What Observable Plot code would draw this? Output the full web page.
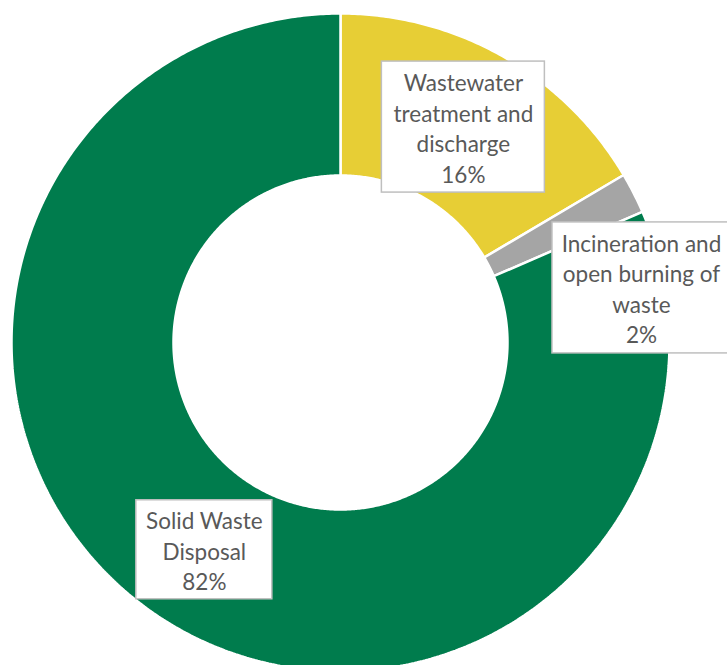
<!DOCTYPE html>
<html>
<head>
<meta charset="utf-8">
<script src="https://cdn.jsdelivr.net/npm/d3@7"></script>
<script src="https://cdn.jsdelivr.net/npm/@observablehq/plot@0.6"></script>
<style>
  html, body { margin: 0; padding: 0; background: #ffffff; }
  #chart svg { display: block; }
</style>
</head>
<body>
<div id="chart"></div>
<script>
// ---- data ----
const categories = [
  "Wastewater treatment and discharge",
  "Incineration and open burning of waste",
  "Solid Waste Disposal"
];
const values = [16.5, 2.0, 81.5];
const labelLines = [
  ["Wastewater", "treatment and", "discharge"],
  ["Incineration and", "open burning of", "waste"],
  ["Solid Waste", "Disposal"]
];
const percentLabels = ["16%", "2%", "82%"];
const colors = ["#E7CE35", "#A5A5A5", "#007C4D"];

// ---- layout (pixels) ----
const W = 727, H = 665;
const CX = 340, CY = 342, RPX = 329, RIN = 167;
const inner = RIN / RPX;
const labelRadius = (1 + inner) / 2;
const boxSize = [[163, 131], [178, 131], [136, 99]];
const labelShift = [[0, 0], [80, 58], [0, 0]]; // best-fit shift for thin slice
const fontFamily = "Lato, 'Open Sans', sans-serif";
const fontSize = 22.5;
const lineGap = 30.5;

// ---- derived geometry ----
const arcs = d3.pie().sort(null).value(d => d)(values);
function ringPolygon(a0, a1) {
  const pts = [];
  const n = Math.max(4, Math.ceil((a1 - a0) / (Math.PI / 360)));
  for (let i = 0; i <= n; i++) {
    const a = a0 + (a1 - a0) * i / n;
    pts.push({x: Math.sin(a), y: Math.cos(a)});
  }
  for (let i = n; i >= 0; i--) {
    const a = a0 + (a1 - a0) * i / n;
    pts.push({x: inner * Math.sin(a), y: inner * Math.cos(a)});
  }
  return pts;
}
const slices = arcs.map((a, i) => ({cat: categories[i], color: colors[i], pts: ringPolygon(a.startAngle, a.endAngle)}));

const labels = arcs.map((a, i) => {
  const m = (a.startAngle + a.endAngle) / 2;
  const x = labelRadius * Math.sin(m) + labelShift[i][0] / RPX;
  const y = labelRadius * Math.cos(m) - labelShift[i][1] / RPX;
  const [bw, bh] = boxSize[i];
  return {
    x, y,
    x1: x - bw / 2 / RPX, x2: x + bw / 2 / RPX,
    y1: y - bh / 2 / RPX, y2: y + bh / 2 / RPX,
    text: [...labelLines[i], percentLabels[i]].join("\n")
  };
});

const chart = Plot.plot({
  width: W,
  height: H,
  margin: 0,
  style: {background: "#ffffff", overflow: "hidden"},
  x: {domain: [-CX / RPX, (W - CX) / RPX], range: [0, W], axis: null},
  y: {domain: [-(H - CY) / RPX, CY / RPX], range: [H, 0], axis: null},
  marks: [
    ...slices.map(s => Plot.line(s.pts, {
      x: "x", y: "y",
      fill: s.color, stroke: "#ffffff", strokeWidth: 2.5,
      curve: "linear-closed", strokeLinejoin: "miter"
    })),
    Plot.rect(labels, {
      x1: "x1", x2: "x2", y1: "y1", y2: "y2",
      fill: "#ffffff", stroke: "#BFBFBF", strokeWidth: 1.5
    }),
    Plot.text(labels, {
      x: "x", y: "y", text: "text",
      fill: "#595959", fontSize, fontFamily,
      lineHeight: lineGap / fontSize
    })
  ]
});
document.getElementById("chart").append(chart);
</script>
</body>
</html>
